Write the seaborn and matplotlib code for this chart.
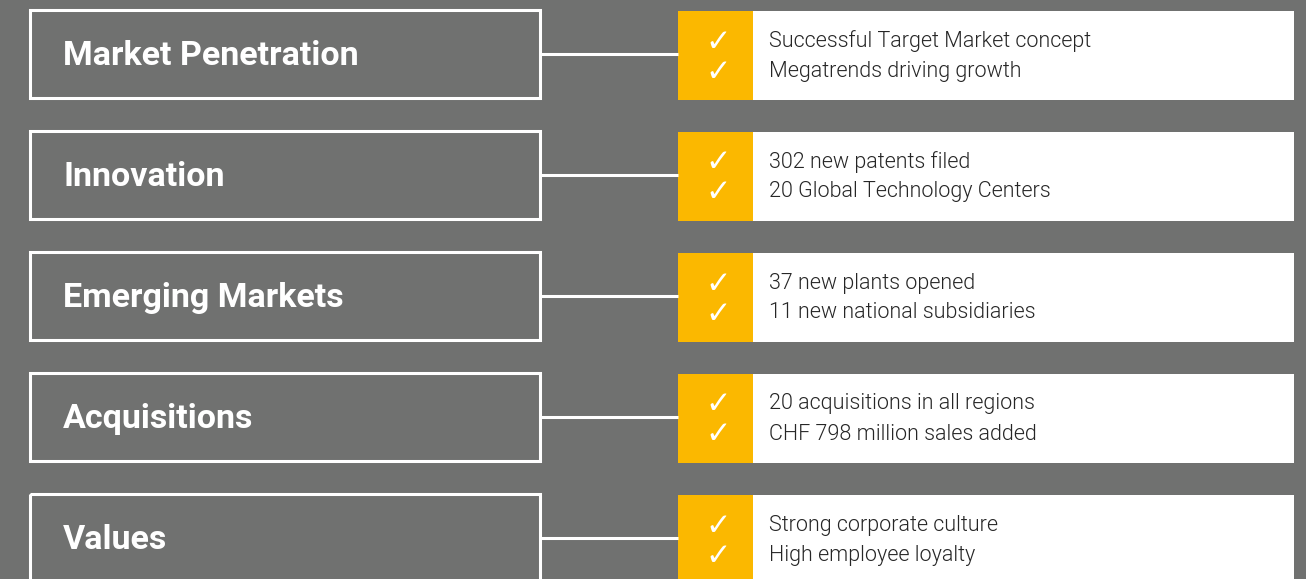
import matplotlib
matplotlib.use("Agg")
import matplotlib.pyplot as plt
import seaborn as sns
from matplotlib.patches import Rectangle

categories = ["Market Penetration", "Innovation", "Emerging Markets", "Acquisitions", "Values"]
bullets_1 = ["Successful Target Market concept", "302 new patents filed", "37 new plants opened",
             "20 acquisitions in all regions", "Strong corporate culture"]
bullets_2 = ["Megatrends driving growth", "20 Global Technology Centers", "11 new national subsidiaries",
             "CHF 798 million sales added", "High employee loyalty"]

sns.set_theme(style="white")
plt.rcParams['font.family'] = ['Roboto', 'DejaVu Sans']

BG = "#707170"
YEL = "#FBB800"
fig = plt.figure(figsize=(13.06, 5.79), dpi=100, facecolor=BG)
ax = fig.add_axes([0, 0, 1, 1])
ax.set_facecolor(BG)
ax.set_xlim(0, 1306)
ax.set_ylim(579, 0)
ax.axis("off")

step = 121
for i, cat in enumerate(categories):
    top = 10 + i * step
    h = 88
    cy = top + h / 2
    ax.add_patch(Rectangle((30, top), 510, h, fill=False, edgecolor="white", lw=2.2))
    ax.plot([540, 678], [cy, cy], color="white", lw=2.2, solid_capstyle="butt")
    rtop = top + 1
    ax.add_patch(Rectangle((678, rtop), 75, 89, facecolor=YEL, edgecolor="none"))
    ax.add_patch(Rectangle((753, rtop), 541, 89, facecolor="white", edgecolor="none"))
    ax.text(63, cy + 2, cat, color="white", fontsize=24.5, fontweight="bold", va="center", ha="left")
    for j, line in enumerate([bullets_1[i], bullets_2[i]]):
        yy = rtop + 30 + j * 30
        ax.text(769, yy, line, color="#262626", fontsize=15.5, fontweight=300, va="center", ha="left")
        ax.text(718, yy + 1, "\u2713", color="white", fontsize=22, va="center", ha="center",
                family="DejaVu Sans")

fig.savefig("out.png", dpi=100, facecolor=BG)
